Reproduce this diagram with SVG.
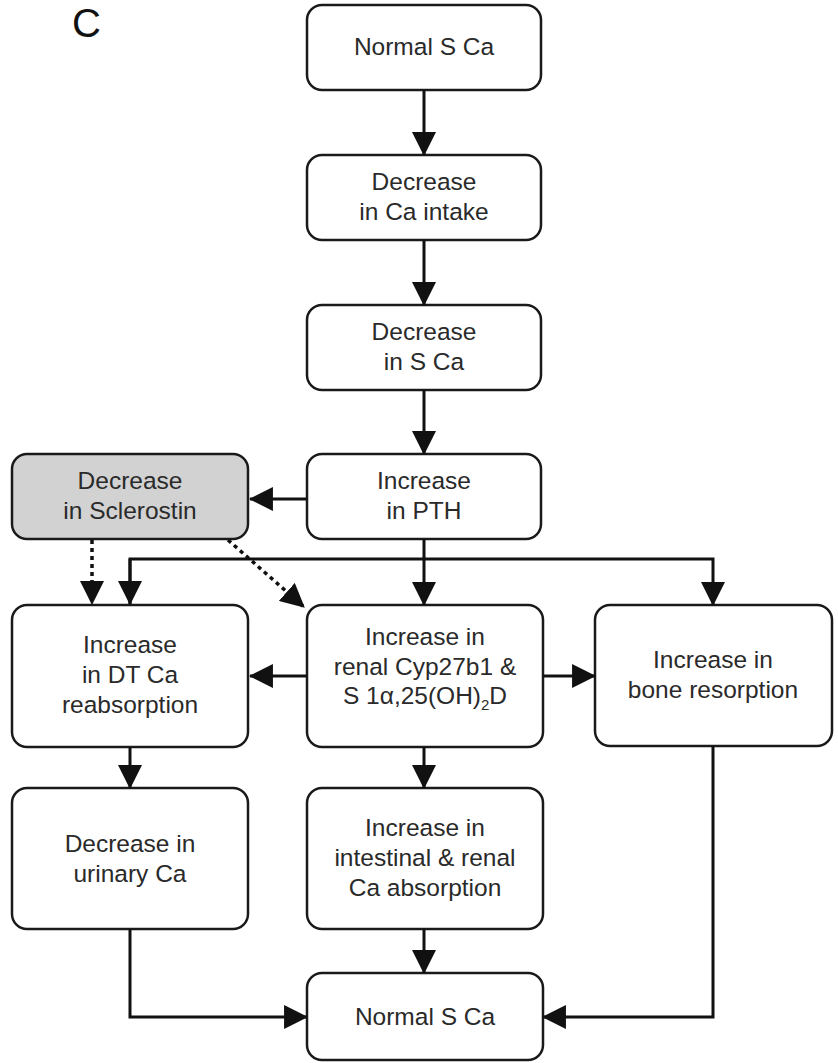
<svg xmlns="http://www.w3.org/2000/svg" width="838" height="1063" viewBox="0 0 838 1063">
<style>
  .box { fill: #ffffff; stroke: #1a1a1a; stroke-width: 2.5; }
  .gray { fill: #d2d2d2; }
  .t { font-family: "Liberation Sans", Arial, sans-serif; font-size: 24.5px; fill: #2a2a2a; text-anchor: middle; }
  .sub { font-size: 15px; }
  .c { stroke: #111111; stroke-width: 3; fill: none; }
  .dot { stroke-dasharray: 4 4; stroke-width: 3.5; }
</style>
<defs>
  <marker id="ah" markerUnits="userSpaceOnUse" markerWidth="24" markerHeight="24" viewBox="0 0 22 22" refX="21" refY="11" orient="auto">
    <path d="M0,0 L22,11 L0,22 Z" fill="#111111"/>
  </marker>
</defs>
<rect width="838" height="1063" fill="#ffffff"/>
<text x="72" y="37" font-family="Liberation Sans, Arial, sans-serif" font-size="40" fill="#111111">C</text>

<g id="n1">
  <rect class="box" x="307" y="5" width="234" height="85" rx="15"/>
  <text class="t" x="424" y="55">Normal S Ca</text>
</g>
<g id="n2">
  <rect class="box" x="307" y="155" width="234" height="85" rx="15"/>
  <text class="t" x="424" y="190">Decrease</text>
  <text class="t" x="424" y="220">in Ca intake</text>
</g>
<g id="n3">
  <rect class="box" x="307" y="305" width="234" height="85" rx="15"/>
  <text class="t" x="424" y="340">Decrease</text>
  <text class="t" x="424" y="370">in S Ca</text>
</g>
<g id="n4">
  <rect class="box" x="307" y="454" width="234" height="85" rx="15"/>
  <text class="t" x="424" y="489">Increase</text>
  <text class="t" x="424" y="519">in PTH</text>
</g>
<g id="n5">
  <rect class="box gray" x="12" y="454" width="236" height="85" rx="15"/>
  <text class="t" x="130" y="489">Decrease</text>
  <text class="t" x="130" y="519">in Sclerostin</text>
</g>
<g id="n6">
  <rect class="box" x="12" y="605" width="236" height="142" rx="15"/>
  <text class="t" x="130" y="653">Increase</text>
  <text class="t" x="130" y="683">in DT Ca</text>
  <text class="t" x="130" y="713">reabsorption</text>
</g>
<g id="n7">
  <rect class="box" x="307" y="605" width="236" height="142" rx="15"/>
  <text class="t" x="425" y="645">Increase in</text>
  <text class="t" x="425" y="675">renal Cyp27b1 &amp;</text>
  <text class="t" x="425" y="704">S 1α,25(OH)<tspan class="sub" dy="6">2</tspan><tspan dy="-6">D</tspan></text>
</g>
<g id="n8">
  <rect class="box" x="595" y="605" width="237" height="141" rx="15"/>
  <text class="t" x="713" y="668">Increase in</text>
  <text class="t" x="713" y="698">bone resorption</text>
</g>
<g id="n9">
  <rect class="box" x="12" y="788" width="236" height="141" rx="15"/>
  <text class="t" x="130" y="852">Decrease in</text>
  <text class="t" x="130" y="882">urinary Ca</text>
</g>
<g id="n10">
  <rect class="box" x="307" y="788" width="236" height="141" rx="15"/>
  <text class="t" x="425" y="836">Increase in</text>
  <text class="t" x="425" y="866">intestinal &amp; renal</text>
  <text class="t" x="425" y="896">Ca absorption</text>
</g>
<g id="n11">
  <rect class="box" x="307" y="973" width="236" height="87" rx="15"/>
  <text class="t" x="425" y="1025">Normal S Ca</text>
</g>

<g id="connectors">
  <line class="c" x1="424" y1="90" x2="424" y2="155" marker-end="url(#ah)"/>
  <line class="c" x1="424" y1="240" x2="424" y2="305" marker-end="url(#ah)"/>
  <line class="c" x1="424" y1="390" x2="424" y2="454" marker-end="url(#ah)"/>
  <line class="c" x1="307" y1="499" x2="250" y2="499" marker-end="url(#ah)"/>
  <line class="c" x1="424" y1="539" x2="424" y2="605" marker-end="url(#ah)"/>
  <polyline class="c" points="130,604 130,559 713,559 713,605" marker-end="url(#ah)"/>
  <line class="c" x1="130" y1="559" x2="130" y2="604" marker-end="url(#ah)"/>
  <line class="c dot" x1="92" y1="540" x2="92" y2="604" marker-end="url(#ah)"/>
  <line class="c dot" x1="228" y1="540" x2="304" y2="607" marker-end="url(#ah)"/>
  <line class="c" x1="307" y1="676" x2="250" y2="676" marker-end="url(#ah)"/>
  <line class="c" x1="543" y1="676" x2="595" y2="676" marker-end="url(#ah)"/>
  <line class="c" x1="130" y1="747" x2="130" y2="788" marker-end="url(#ah)"/>
  <line class="c" x1="424" y1="747" x2="424" y2="788" marker-end="url(#ah)"/>
  <line class="c" x1="424" y1="929" x2="424" y2="973" marker-end="url(#ah)"/>
  <polyline class="c" points="130,929 130,1017 307,1017" marker-end="url(#ah)"/>
  <polyline class="c" points="713,746 713,1017 543,1017" marker-end="url(#ah)"/>
</g>
</svg>
